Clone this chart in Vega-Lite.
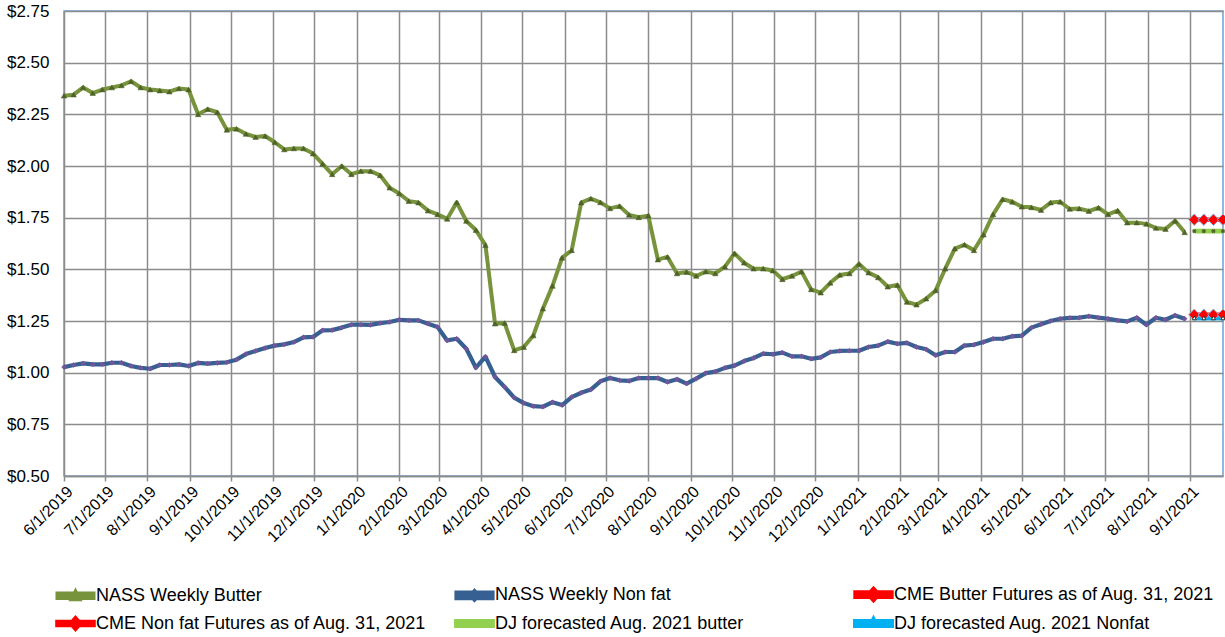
{
  "$schema": "https://vega.github.io/schema/vega-lite/v6.json",
  "width": 1159,
  "height": 465,
  "autosize": {"type": "none"},
  "padding": {"left": 64, "top": 11, "right": 2, "bottom": 161},
  "background": "white",
  "config": {
    "view": {"stroke": "#6FA0D8", "strokeWidth": 1.5},
    "font": "Liberation Sans"
  },
  "data": {
    "values": [
      {"d": "2019-06-01", "b": 2.34, "n": 1.027},
      {"d": "2019-06-08", "b": 2.345, "n": 1.037},
      {"d": "2019-06-15", "b": 2.38, "n": 1.045},
      {"d": "2019-06-22", "b": 2.353, "n": 1.04},
      {"d": "2019-06-29", "b": 2.37, "n": 1.04},
      {"d": "2019-07-06", "b": 2.38, "n": 1.048},
      {"d": "2019-07-13", "b": 2.39, "n": 1.048},
      {"d": "2019-07-20", "b": 2.41, "n": 1.032},
      {"d": "2019-07-27", "b": 2.38, "n": 1.023},
      {"d": "2019-08-03", "b": 2.37, "n": 1.019},
      {"d": "2019-08-10", "b": 2.365, "n": 1.037},
      {"d": "2019-08-17", "b": 2.36, "n": 1.037},
      {"d": "2019-08-24", "b": 2.375, "n": 1.04},
      {"d": "2019-08-31", "b": 2.37, "n": 1.032},
      {"d": "2019-09-07", "b": 2.25, "n": 1.047},
      {"d": "2019-09-14", "b": 2.275, "n": 1.044},
      {"d": "2019-09-21", "b": 2.26, "n": 1.047},
      {"d": "2019-09-28", "b": 2.175, "n": 1.05},
      {"d": "2019-10-05", "b": 2.18, "n": 1.063},
      {"d": "2019-10-12", "b": 2.155, "n": 1.09},
      {"d": "2019-10-19", "b": 2.14, "n": 1.105},
      {"d": "2019-10-26", "b": 2.145, "n": 1.119},
      {"d": "2019-11-02", "b": 2.115, "n": 1.131},
      {"d": "2019-11-09", "b": 2.08, "n": 1.137},
      {"d": "2019-11-16", "b": 2.085, "n": 1.148},
      {"d": "2019-11-23", "b": 2.085, "n": 1.171},
      {"d": "2019-11-30", "b": 2.06, "n": 1.173},
      {"d": "2019-12-07", "b": 2.01, "n": 1.205},
      {"d": "2019-12-14", "b": 1.96, "n": 1.206},
      {"d": "2019-12-21", "b": 2.0, "n": 1.218},
      {"d": "2019-12-28", "b": 1.96, "n": 1.232},
      {"d": "2020-01-04", "b": 1.975, "n": 1.232},
      {"d": "2020-01-11", "b": 1.975, "n": 1.231},
      {"d": "2020-01-18", "b": 1.955, "n": 1.24},
      {"d": "2020-01-25", "b": 1.895, "n": 1.245},
      {"d": "2020-02-01", "b": 1.867, "n": 1.256},
      {"d": "2020-02-08", "b": 1.83, "n": 1.253},
      {"d": "2020-02-15", "b": 1.823, "n": 1.253},
      {"d": "2020-02-22", "b": 1.784, "n": 1.237},
      {"d": "2020-02-29", "b": 1.766, "n": 1.221},
      {"d": "2020-03-07", "b": 1.744, "n": 1.156},
      {"d": "2020-03-14", "b": 1.824, "n": 1.164},
      {"d": "2020-03-21", "b": 1.734, "n": 1.116},
      {"d": "2020-03-28", "b": 1.69, "n": 1.024},
      {"d": "2020-04-04", "b": 1.617, "n": 1.077},
      {"d": "2020-04-11", "b": 1.237, "n": 0.979},
      {"d": "2020-04-18", "b": 1.24, "n": 0.931},
      {"d": "2020-04-25", "b": 1.108, "n": 0.879},
      {"d": "2020-05-02", "b": 1.124, "n": 0.853},
      {"d": "2020-05-09", "b": 1.18, "n": 0.838},
      {"d": "2020-05-16", "b": 1.31, "n": 0.835},
      {"d": "2020-05-23", "b": 1.42, "n": 0.857},
      {"d": "2020-05-30", "b": 1.556, "n": 0.843},
      {"d": "2020-06-06", "b": 1.592, "n": 0.882},
      {"d": "2020-06-13", "b": 1.823, "n": 0.903},
      {"d": "2020-06-20", "b": 1.842, "n": 0.918},
      {"d": "2020-06-27", "b": 1.824, "n": 0.958},
      {"d": "2020-07-04", "b": 1.795, "n": 0.974},
      {"d": "2020-07-11", "b": 1.806, "n": 0.963},
      {"d": "2020-07-18", "b": 1.763, "n": 0.96},
      {"d": "2020-07-25", "b": 1.752, "n": 0.974},
      {"d": "2020-08-01", "b": 1.76, "n": 0.974},
      {"d": "2020-08-08", "b": 1.547, "n": 0.974},
      {"d": "2020-08-15", "b": 1.56, "n": 0.955},
      {"d": "2020-08-22", "b": 1.48, "n": 0.968},
      {"d": "2020-08-29", "b": 1.487, "n": 0.947},
      {"d": "2020-09-05", "b": 1.468, "n": 0.971},
      {"d": "2020-09-12", "b": 1.489, "n": 0.998},
      {"d": "2020-09-19", "b": 1.48, "n": 1.005},
      {"d": "2020-09-26", "b": 1.513, "n": 1.023},
      {"d": "2020-10-03", "b": 1.577, "n": 1.034},
      {"d": "2020-10-10", "b": 1.532, "n": 1.056},
      {"d": "2020-10-17", "b": 1.503, "n": 1.071},
      {"d": "2020-10-24", "b": 1.503, "n": 1.092},
      {"d": "2020-10-31", "b": 1.494, "n": 1.089},
      {"d": "2020-11-07", "b": 1.452, "n": 1.097},
      {"d": "2020-11-14", "b": 1.468, "n": 1.079},
      {"d": "2020-11-21", "b": 1.489, "n": 1.079},
      {"d": "2020-11-28", "b": 1.403, "n": 1.067},
      {"d": "2020-12-05", "b": 1.387, "n": 1.074},
      {"d": "2020-12-12", "b": 1.435, "n": 1.1},
      {"d": "2020-12-19", "b": 1.473, "n": 1.105},
      {"d": "2020-12-26", "b": 1.48, "n": 1.106},
      {"d": "2021-01-02", "b": 1.526, "n": 1.106},
      {"d": "2021-01-09", "b": 1.484, "n": 1.124},
      {"d": "2021-01-16", "b": 1.461, "n": 1.131},
      {"d": "2021-01-23", "b": 1.416, "n": 1.15},
      {"d": "2021-01-30", "b": 1.424, "n": 1.14},
      {"d": "2021-02-06", "b": 1.342, "n": 1.144},
      {"d": "2021-02-13", "b": 1.329, "n": 1.124},
      {"d": "2021-02-20", "b": 1.358, "n": 1.113},
      {"d": "2021-02-27", "b": 1.398, "n": 1.084},
      {"d": "2021-03-06", "b": 1.503, "n": 1.1},
      {"d": "2021-03-13", "b": 1.6, "n": 1.1},
      {"d": "2021-03-20", "b": 1.619, "n": 1.131},
      {"d": "2021-03-27", "b": 1.592, "n": 1.135},
      {"d": "2021-04-03", "b": 1.668, "n": 1.148},
      {"d": "2021-04-10", "b": 1.766, "n": 1.164},
      {"d": "2021-04-17", "b": 1.839, "n": 1.164},
      {"d": "2021-04-24", "b": 1.827, "n": 1.176},
      {"d": "2021-05-01", "b": 1.803, "n": 1.179},
      {"d": "2021-05-08", "b": 1.8, "n": 1.218},
      {"d": "2021-05-15", "b": 1.787, "n": 1.234},
      {"d": "2021-05-22", "b": 1.823, "n": 1.25},
      {"d": "2021-05-29", "b": 1.827, "n": 1.261},
      {"d": "2021-06-05", "b": 1.792, "n": 1.265},
      {"d": "2021-06-12", "b": 1.794, "n": 1.266},
      {"d": "2021-06-19", "b": 1.782, "n": 1.273},
      {"d": "2021-06-26", "b": 1.798, "n": 1.266},
      {"d": "2021-07-03", "b": 1.766, "n": 1.261},
      {"d": "2021-07-10", "b": 1.784, "n": 1.253},
      {"d": "2021-07-17", "b": 1.726, "n": 1.248},
      {"d": "2021-07-24", "b": 1.726, "n": 1.266},
      {"d": "2021-07-31", "b": 1.72, "n": 1.232},
      {"d": "2021-08-07", "b": 1.7, "n": 1.266},
      {"d": "2021-08-14", "b": 1.695, "n": 1.256},
      {"d": "2021-08-21", "b": 1.735, "n": 1.277},
      {"d": "2021-08-28", "b": 1.679, "n": 1.261},
      {"d": "2021-09-04", "cb": 1.74, "cn": 1.28, "db": 1.685, "dn": 1.265},
      {"d": "2021-09-11", "cb": 1.74, "cn": 1.28, "db": 1.685, "dn": 1.265},
      {"d": "2021-09-18", "cb": 1.74, "cn": 1.28, "db": 1.685, "dn": 1.265},
      {"d": "2021-09-25", "cb": 1.74, "cn": 1.28, "db": 1.685, "dn": 1.265}
    ]
  },
  "transform": [
    {"fold": ["b", "n", "cb", "cn", "db", "dn"], "as": ["s", "v"]},
    {"filter": "isValid(datum.v)"}
  ],
  "encoding": {
    "x": {
      "field": "d",
      "type": "temporal",
      "scale": {"type": "utc", "domain": [{"year": 2019, "month": 6, "date": 1, "utc": true}, {"year": 2021, "month": 9, "date": 25, "utc": true}], "nice": false},
      "axis": {
        "title": null,
        "format": "%-m/%-d/%Y",
        "tickCount": {"interval": "month", "step": 1},
        "labelAngle": -45,
        "labelFontSize": 16,
        "labelColor": "#000000",
        "labelOverlap": false,
        "labelPadding": 2,
        "labelFlush": false,
        "grid": true,
        "gridColor": "#8C8C8C",
        "gridWidth": 1.5,
        "domainColor": "#8C8C8C",
        "domainWidth": 1.5,
        "tickColor": "#8C8C8C",
        "tickSize": 5,
        "tickWidth": 1.5
      }
    },
    "y": {
      "field": "v",
      "type": "quantitative",
      "scale": {"domain": [0.5, 2.75], "nice": false, "zero": false},
      "axis": {
        "title": null,
        "values": [0.5, 0.75, 1.0, 1.25, 1.5, 1.75, 2.0, 2.25, 2.5, 2.75],
        "format": "$.2f",
        "labelFontSize": 17,
        "labelColor": "#000000",
        "labelPadding": 15,
        "ticks": false,
        "domain": false,
        "grid": true,
        "gridColor": "#8C8C8C",
        "gridWidth": 1.5
      }
    }
  },
  "layer": [
    {
      "mark": {"type": "line", "strokeJoin": "round"},
      "encoding": {
        "color": {
          "field": "s",
          "type": "nominal",
          "scale": {
            "domain": ["b", "n", "cb", "cn", "db", "dn"],
            "range": ["#77933C", "#376092", "#FF0000", "#FF0000", "#92D050", "#00B0F0"]
          },
          "legend": {
            "title": null,
            "orient": "none",
            "direction": "horizontal",
            "legendX": -1,
            "legendY": 571,
            "columns": 3,
            "gridAlign": "all",
            "columnPadding": 14,
            "rowPadding": 0,
            "padding": 0,
            "symbolSize": 400,
            "symbolStrokeWidth": 0,
            "symbolOpacity": 1,
            "labelFontSize": 18,
            "labelColor": "#000000",
            "labelOffset": 8,
            "labelLimit": 500,
            "labelExpr": "datum.value === 'b' ? 'NASS Weekly Butter' : datum.value === 'n' ? 'NASS Weekly Non fat' : datum.value === 'cb' ? 'CME Butter Futures as of Aug. 31, 2021' : datum.value === 'cn' ? 'CME Non fat  Futures as of Aug. 31, 2021' : datum.value === 'db' ? 'DJ forecasted Aug. 2021  butter' : 'DJ forecasted  Aug.  2021 Nonfat'"
          }
        },
        "strokeWidth": {
          "field": "s",
          "type": "ordinal",
          "scale": {"domain": ["b", "n", "cb", "cn", "db", "dn"], "range": [4, 5, 3, 3, 4, 4]},
          "legend": null
        }
      }
    },
    {
      "transform": [{"filter": "datum.s === 'b'"}],
      "mark": {"type": "point", "shape": "triangle-up", "filled": true, "fill": "#4F6228", "stroke": "#4F6228", "strokeWidth": 0.5, "size": 30, "opacity": 1}
    },
    {
      "transform": [{"filter": "datum.s === 'n'"}],
      "mark": {"type": "point", "shape": "diamond", "filled": true, "fill": "#74549A", "stroke": "#74549A", "strokeWidth": 0.5, "size": 24, "opacity": 1}
    },
    {
      "transform": [{"filter": "datum.s === 'cb' || datum.s === 'cn'"}],
      "mark": {"type": "point", "shape": "diamond", "filled": true, "fill": "#FF0000", "stroke": "#8DB4E2", "strokeWidth": 1, "size": 130, "opacity": 1}
    },
    {
      "transform": [{"filter": "datum.s === 'db'"}],
      "mark": {"type": "point", "shape": "cross", "angle": 45, "filled": true, "fill": "#4F6228", "stroke": "#4F6228", "strokeWidth": 0.5, "size": 14, "opacity": 1}
    },
    {
      "transform": [{"filter": "datum.s === 'dn'"}],
      "mark": {"type": "point", "shape": "triangle-up", "filled": true, "fill": "#FFFFFF", "stroke": "#333333", "strokeWidth": 1, "size": 18, "opacity": 1}
    },
    {
      "transform": [{"filter": "datum.s === 'none'"}],
      "mark": {"type": "point", "filled": true, "opacity": 1, "strokeWidth": 0},
      "encoding": {
        "color": {
          "field": "s",
          "type": "nominal",
          "scale": {
            "domain": ["b", "n", "cb", "cn", "db", "dn"],
            "range": ["#77933C", "#376092", "#FF0000", "#FF0000", "#92D050", "#00B0F0"]
          }
        },
        "shape": {
          "field": "s",
          "type": "nominal",
          "scale": {
            "domain": ["b", "n", "cb", "cn", "db", "dn"],
            "range": [
              "M-1.8,-0.22H1.8V0.22H-1.8Z M-0.38,0.35L0,-0.4L0.38,0.35Z",
              "M-1.8,-0.28H1.8V0.28H-1.8Z M0,-0.42L0.38,0L0,0.42L-0.38,0Z",
              "M-1.8,-0.22H1.8V0.22H-1.8Z M0,-0.55L0.5,0L0,0.55L-0.5,0Z",
              "M-1.8,-0.14H1.8V0.14H-1.8Z M0,-0.5L0.45,0L0,0.5L-0.45,0Z",
              "M-1.8,-0.22H1.8V0.22H-1.8Z",
              "M-1.8,-0.2H1.8V0.2H-1.8Z M-0.28,0.2L0,-0.35L0.28,0.2Z"
            ]
          },
          "legend": null
        }
      }
    }
  ]
}
